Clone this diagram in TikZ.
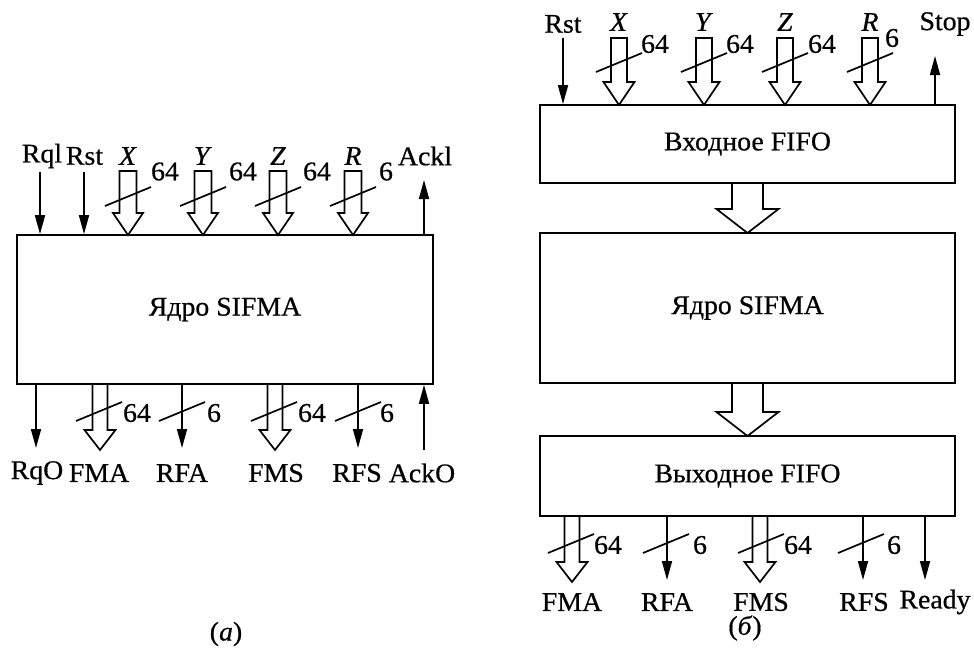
\documentclass[tikz,border=0pt]{standalone}
\usepackage{fontspec}
\setmainfont[FakeStretch=1.03,FakeBold=0.6]{Liberation Serif}
\usetikzlibrary{arrows.meta}
\tikzset{
  lw/.style={line width=1.7pt},
  sig/.style={lw, -{Triangle[length=19pt,width=10pt]}},
  lab/.style={inner sep=0pt, font=\fontsize{27}{32}\selectfont},
  blk/.style={draw, lw, inner sep=0pt, font=\fontsize{27}{32}\selectfont},
  busline/.style={lw},
}
% hollow arrow: x, ytop, yheadstart, ytip, shaft half width, head half width
\newcommand\hollowarr[6]{%
  \draw[lw, line join=miter] ({#1-#5},#2) -- ({#1-#5},#3) -- ({#1-#6},#3) -- (#1,#4)
    -- ({#1+#6},#3) -- ({#1+#5},#3) -- ({#1+#5},#2) -- cycle;}
% slash mark centred at x,y
\newcommand\busslash[2]{%
  \draw[busline] ({#1-23},{#2+10}) -- ({#1+23},{#2-9});}
\begin{document}
\begin{tikzpicture}[x=1pt,y=-1pt]
\useasboundingbox (0,0) rectangle (974,653);

% ---------------- (a) ----------------
\node[blk, minimum width=416pt, minimum height=149pt] (core) at (225,309.5) {Ядро SIFMA};

% top inputs
\node[lab] (rqlL) at (42,156) {Rql};
\node[lab] (rstL) at (84.5,156) {Rst};
\coordinate (rqlS) at (40,172);
\coordinate (rstS) at (84,172);
\draw[sig] (rqlS) -- (rqlS |- core.north);
\draw[sig] (rstS) -- (rstS |- core.north);

\foreach \xx/\nm/\bits/\off in {128/X/64/37, 203/Y/64/40, 278/Z/64/39, 353/R/6/33}{
  \hollowarr{\xx}{171}{213}{235}{8.5}{15}
  \busslash{\xx}{196}
  \node[lab] at (\xx,156) {\textit{\nm}};
  \node[lab] at (\xx+\off,171.5) {\bits};
}

\coordinate (acklE) at (424,180);
\draw[sig] (acklE |- core.north) -- (acklE);
\node[lab] (acklL) at (425,156) {Ackl};

% bottom outputs
\coordinate (rqoE) at (36,448);
\draw[sig] (rqoE |- core.south) -- (rqoE);
\hollowarr{100}{384}{430}{450}{7.5}{15.5}
\busslash{99}{411}
\node[lab] at (137,413) {64};
\coordinate (rfaE) at (182,448);
\draw[sig] (rfaE |- core.south) -- (rfaE);
\busslash{182}{411}
\node[lab] at (214,413) {6};
\hollowarr{275}{384}{430}{450}{7.5}{15.5}
\busslash{274}{411}
\node[lab] at (312,413) {64};
\coordinate (rfsE) at (358,448);
\draw[sig] (rfsE |- core.south) -- (rfsE);
\busslash{358}{411}
\node[lab] at (387,413) {6};
\coordinate (ackoS) at (424,450);
\draw[sig] (ackoS) -- (ackoS |- core.south);

\node[lab] at (37,473) {RqO};
\node[lab] at (99,473) {FMA};
\node[lab] at (182,473) {RFA};
\node[lab] at (276,473) {FMS};
\node[lab] at (357,473) {RFS};
\node[lab] at (422,473) {AckO};

\node[lab] at (226,634) {(\textit{а})};

% ---------------- (б) ----------------
\node[blk, minimum width=415pt, minimum height=78pt] (fin) at (747.5,144) {Входное FIFO};
\node[blk, minimum width=415pt, minimum height=150pt] (core2) at (747.5,308) {Ядро SIFMA};
\node[blk, minimum width=415pt, minimum height=80pt] (fout) at (747.5,476) {Выходное FIFO};

\hollowarr{747.5}{183}{209}{233}{15.5}{31}
\hollowarr{747.5}{383}{412}{436}{15.5}{31}

\node[lab] (rst2L) at (563,24) {Rst};
\coordinate (rst2S) at (563,38);
\draw[sig] (rst2S) -- (rst2S |- fin.north);

\foreach \xx/\nm in {619/X, 704/Y, 785/Z, 870/R}{
  \hollowarr{\xx}{38}{82}{105}{8}{15.5}
  \busslash{\xx}{62}
  \node[lab] at (\xx,22) {\textit{\nm}};
}
\node[lab] at (655,44) {64};
\node[lab] at (740,44) {64};
\node[lab] at (822,44) {64};
\node[lab] at (892,38) {6};

\coordinate (stopE) at (935,56);
\draw[sig] (stopE |- fin.north) -- (stopE);
\node[lab] (stopL) at (945,24) {Stop};

% bottom outputs
\hollowarr{572}{516}{562}{582}{7.5}{15.5}
\busslash{571}{543}
\node[lab] at (608,545) {64};
\coordinate (rfa2E) at (667,580);
\draw[sig] (rfa2E |- fout.south) -- (rfa2E);
\busslash{666}{543}
\node[lab] at (700,545) {6};
\hollowarr{760}{516}{562}{582}{7.5}{15.5}
\busslash{761}{543}
\node[lab] at (798,545) {64};
\coordinate (rfs2E) at (863,580);
\draw[sig] (rfs2E |- fout.south) -- (rfs2E);
\busslash{861}{543}
\node[lab] at (894,545) {6};
\coordinate (readyE) at (925,580);
\draw[sig] (readyE |- fout.south) -- (readyE);

\node[lab] at (572,602) {FMA};
\node[lab] at (667,602) {RFA};
\node[lab] at (761,602) {FMS};
\node[lab] at (864,602) {RFS};
\node[lab] at (935,602) {Ready};

\node[lab] at (745,628) {(\textit{б})};
\end{tikzpicture}
\end{document}
